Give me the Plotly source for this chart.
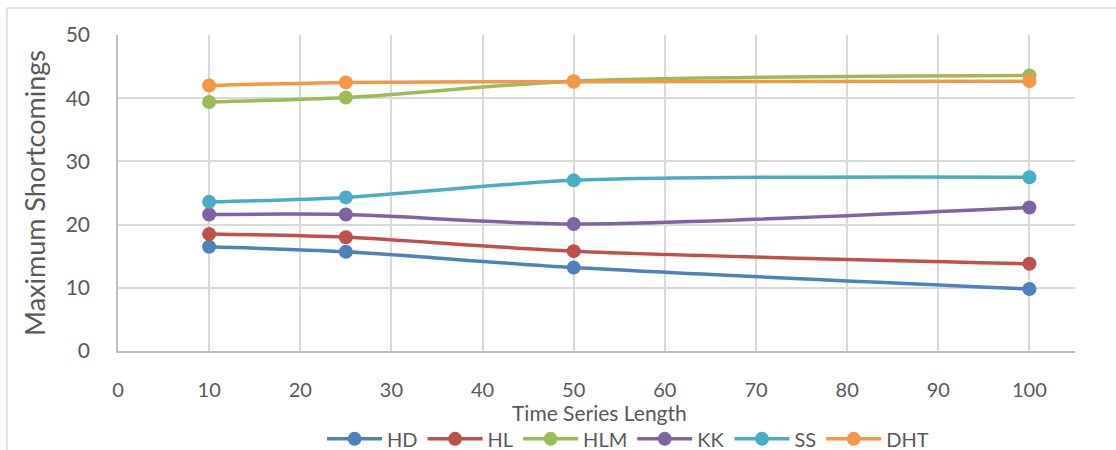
import plotly.graph_objects as go

x_vals = [10, 25, 50, 100]
series_names = ["HD", "HL", "HLM", "KK", "SS", "DHT"]
hd = [16.5, 15.7, 13.2, 9.8]
hl = [18.5, 18.0, 15.8, 13.8]
hlm = [39.4, 40.1, 42.7, 43.6]
kk = [21.6, 21.6, 20.1, 22.7]
ss = [23.6, 24.3, 27.0, 27.5]
dht = [42.0, 42.5, 42.6, 42.7]
series_values = [hd, hl, hlm, kk, ss, dht]
colors = ["#4F81BD", "#C0504D", "#9BBB59", "#8064A2", "#4BACC6", "#F79646"]

x_title = "Time Series Length"
y_title = "Maximum Shortcomings"

FONT = "Lato, Calibri, sans-serif"
TXT = "#595959"

fig = go.Figure()
for name, vals, col in zip(series_names, series_values, colors):
    fig.add_trace(go.Scatter(
        x=x_vals, y=vals, name=name, mode="lines+markers",
        line=dict(color=col, width=3.5, shape="spline", smoothing=0.8),
        marker=dict(color=col, size=14, line=dict(width=0)),
    ))

fig.update_layout(
    width=1116, height=450,
    margin=dict(l=118, r=41, t=35, b=99, autoexpand=False),
    paper_bgcolor="white", plot_bgcolor="white",
    font=dict(family=FONT, size=20, color=TXT),
    showlegend=True,
    legend=dict(orientation="h", x=0.533, xanchor="center", y=-0.278, yanchor="middle",
                font=dict(family=FONT, size=20, color=TXT), itemwidth=55,
                tracegroupgap=0, bgcolor="rgba(0,0,0,0)"),
    xaxis=dict(range=[0, 105], dtick=10, tick0=0, showgrid=True, gridcolor="#d9d9d9", gridwidth=1.5,
               showline=True, linecolor="#bfbfbf", linewidth=1.5, zeroline=False,
               ticks="", ticklabelstandoff=20, automargin=False,
               tickfont=dict(family=FONT, size=20, color=TXT)),
    yaxis=dict(range=[0, 50], dtick=10, showgrid=True, gridcolor="#d9d9d9", gridwidth=1.5,
               showline=True, linecolor="#bfbfbf", linewidth=1.5, zeroline=False,
               ticks="", ticklabelstandoff=22, automargin=False,
               tickfont=dict(family=FONT, size=21, color=TXT),
               title=dict(text=y_title, font=dict(family=FONT, size=27, color=TXT), standoff=12)),
    annotations=[dict(text=x_title, xref="paper", yref="paper", x=0.503, y=-0.195,
                      xanchor="center", yanchor="middle", showarrow=False,
                      font=dict(family=FONT, size=21, color=TXT))],
)

# chart-area border (top and left edges visible in the reference)
fig.add_shape(type="line", xref="paper", yref="paper", x0=-0.116, x1=1.1, y0=1.0854, y1=1.0854,
              line=dict(color="#d9d9d9", width=1.5))
fig.add_shape(type="line", xref="paper", yref="paper", x0=-0.116, x1=-0.116, y0=1.0854, y1=-0.32,
              line=dict(color="#d9d9d9", width=1.5))

fig.write_html("out.html")
